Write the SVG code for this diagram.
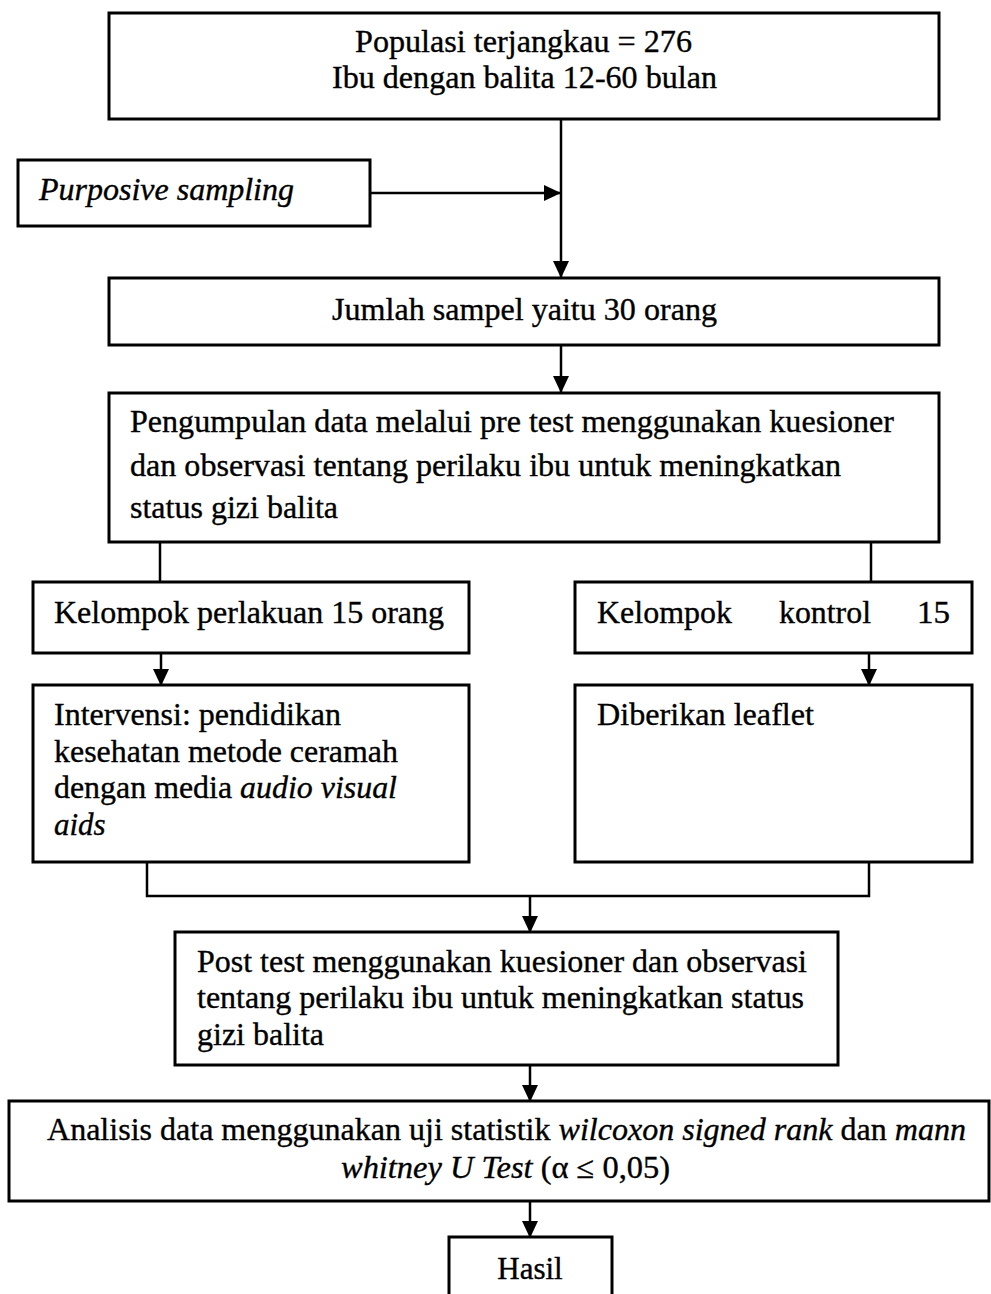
<svg xmlns="http://www.w3.org/2000/svg" width="991" height="1294" viewBox="0 0 991 1294">
<defs>
<marker id="ah" markerUnits="userSpaceOnUse" markerWidth="18" markerHeight="16" refX="17" refY="8" orient="auto">
<path d="M0,0 L17,8 L0,16 Z" fill="#000"/>
</marker>
<style>
rect{fill:#fff;stroke:#000;stroke-width:3}
text{font-family:"Liberation Serif","Times New Roman",serif;font-size:31px;fill:#000;stroke:#000;stroke-width:0.35}
.it{font-style:italic}
.c{text-anchor:middle}
#connectors line,#connectors polyline{stroke:#000;stroke-width:2.5;fill:none}
.a{marker-end:url(#ah)}
</style>
</defs>
<rect x="0" y="0" width="991" height="1294" style="fill:#fff;stroke:none"/>
<g id="connectors">
<line class="a" x1="561" y1="119" x2="561" y2="278"/>
<line class="a" x1="370" y1="193" x2="561" y2="193"/>
<line class="a" x1="561" y1="345" x2="561" y2="393"/>
<line x1="160" y1="542" x2="160" y2="582"/>
<line x1="871" y1="542" x2="871" y2="582"/>
<line class="a" x1="161" y1="653" x2="161" y2="686"/>
<line class="a" x1="869" y1="653" x2="869" y2="686"/>
<polyline points="147,862 147,896 869,896 869,862"/>
<line class="a" x1="530" y1="896" x2="530" y2="933"/>
<line class="a" x1="530" y1="1065" x2="530" y2="1102"/>
<line class="a" x1="530" y1="1201" x2="530" y2="1238"/>
</g>
<g id="n1">
<rect x="109" y="13" width="830" height="106"/>
<text x="355" y="52" textLength="337" lengthAdjust="spacingAndGlyphs">Populasi terjangkau = 276</text>
<text x="332" y="88" textLength="385" lengthAdjust="spacingAndGlyphs">Ibu dengan balita 12-60 bulan</text>
</g>
<g id="n2">
<rect x="18" y="160" width="352" height="66"/>
<text class="it" x="39" y="200" textLength="255" lengthAdjust="spacingAndGlyphs">Purposive sampling</text>
</g>
<g id="n3">
<rect x="109" y="278" width="830" height="67"/>
<text x="332" y="320" textLength="385" lengthAdjust="spacingAndGlyphs">Jumlah sampel yaitu 30 orang</text>
</g>
<g id="n4">
<rect x="109" y="393" width="830" height="149"/>
<text x="130" y="432" textLength="764" lengthAdjust="spacingAndGlyphs">Pengumpulan data melalui pre test menggunakan kuesioner</text>
<text x="130" y="476" textLength="711" lengthAdjust="spacingAndGlyphs">dan observasi tentang perilaku ibu untuk meningkatkan</text>
<text x="130" y="518" textLength="208" lengthAdjust="spacingAndGlyphs">status gizi balita</text>
</g>
<g id="n5">
<rect x="33" y="582" width="436" height="71"/>
<text x="54" y="623" textLength="390" lengthAdjust="spacingAndGlyphs">Kelompok perlakuan 15 orang</text>
</g>
<g id="n6">
<rect x="575" y="582" width="397" height="71"/>
<text x="597" y="623" textLength="135" lengthAdjust="spacingAndGlyphs">Kelompok</text>
<text x="779" y="623" textLength="92" lengthAdjust="spacingAndGlyphs">kontrol</text>
<text x="917" y="623" textLength="33" lengthAdjust="spacingAndGlyphs">15</text>
</g>
<g id="n7">
<rect x="33" y="685" width="436" height="177"/>
<text x="54" y="725" textLength="287" lengthAdjust="spacingAndGlyphs">Intervensi: pendidikan</text>
<text x="54" y="762" textLength="344" lengthAdjust="spacingAndGlyphs">kesehatan metode ceramah</text>
<text x="54" y="798" textLength="343" lengthAdjust="spacingAndGlyphs">dengan media <tspan class="it">audio visual</tspan></text>
<text class="it" x="54" y="835">aids</text>
</g>
<g id="n8">
<rect x="575" y="685" width="397" height="177"/>
<text x="597" y="725" textLength="217" lengthAdjust="spacingAndGlyphs">Diberikan leaflet</text>
</g>
<g id="n9">
<rect x="175" y="932" width="663" height="133"/>
<text x="197" y="972" textLength="610" lengthAdjust="spacingAndGlyphs">Post test menggunakan kuesioner dan observasi</text>
<text x="197" y="1008" textLength="607" lengthAdjust="spacingAndGlyphs">tentang perilaku ibu untuk meningkatkan status</text>
<text x="197" y="1045" textLength="127" lengthAdjust="spacingAndGlyphs">gizi balita</text>
</g>
<g id="n10">
<rect x="9" y="1101" width="980" height="100"/>
<text x="47" y="1140" textLength="919" lengthAdjust="spacingAndGlyphs">Analisis data menggunakan uji statistik <tspan class="it">wilcoxon signed rank</tspan> dan <tspan class="it">mann</tspan></text>
<text x="341" y="1178" textLength="329" lengthAdjust="spacingAndGlyphs"><tspan class="it">whitney U Test</tspan> (α ≤ 0,05)</text>
</g>
<g id="n11">
<rect x="449" y="1237" width="163" height="70"/>
<text class="c" x="530" y="1279">Hasil</text>
</g>
</svg>
